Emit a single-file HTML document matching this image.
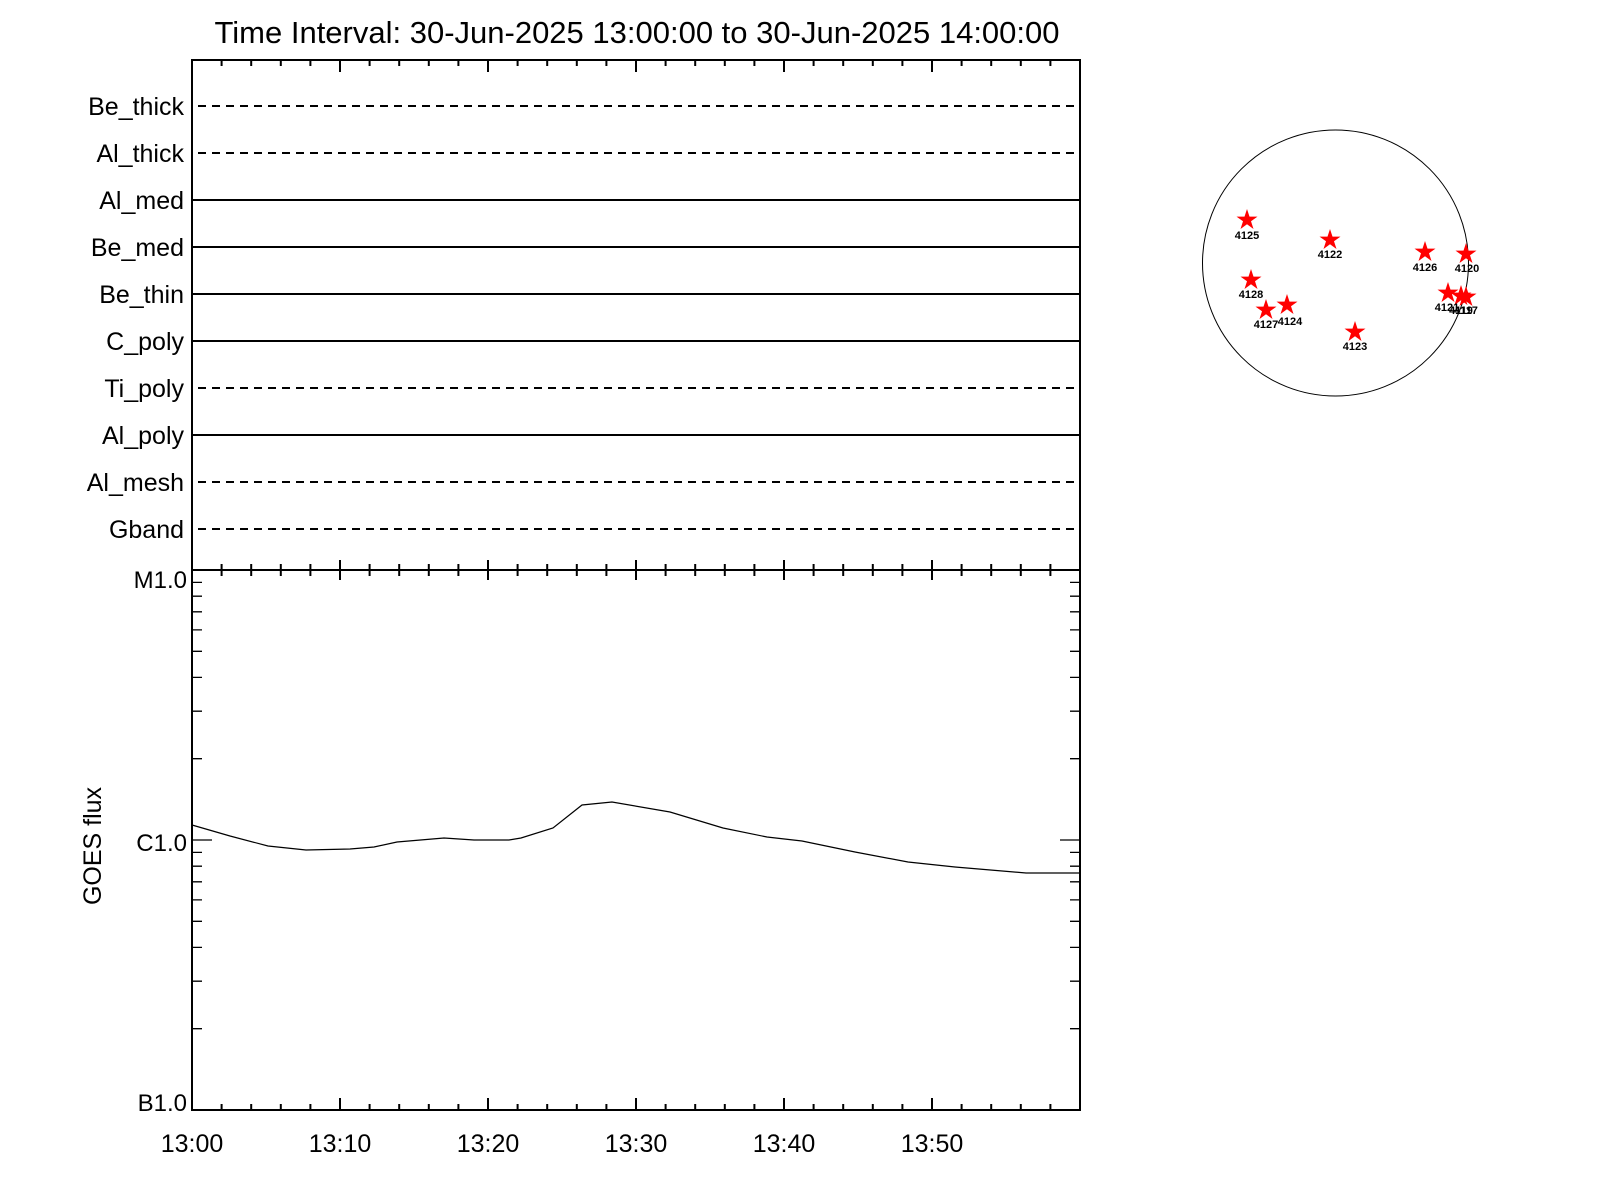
<!DOCTYPE html>
<html><head><meta charset="utf-8"><style>
html,body{margin:0;padding:0;background:#fff;}
svg{display:block;}
text{font-family:"Liberation Sans",sans-serif;fill:#000;}
</style></head><body>
<svg width="1600" height="1200" viewBox="0 0 1600 1200" xmlns="http://www.w3.org/2000/svg">
<rect width="1600" height="1200" fill="#fff"/>
<text x="637" y="43" font-size="31" text-anchor="middle">Time Interval: 30-Jun-2025 13:00:00 to 30-Jun-2025 14:00:00</text>

<g stroke="#000" stroke-width="2" fill="none">
<rect x="192" y="60" width="888" height="1050"/>
<line x1="192" y1="570" x2="1080" y2="570"/>
</g>
<path stroke="#000" stroke-width="2" fill="none" d="
M221.6 60v6 M251.2 60v6 M280.8 60v6 M310.4 60v6 M340 60v12 M369.6 60v6 M399.2 60v6 M428.8 60v6 M458.4 60v6 M488 60v12
M517.6 60v6 M547.2 60v6 M576.8 60v6 M606.4 60v6 M636 60v12 M665.6 60v6 M695.2 60v6 M724.8 60v6 M754.4 60v6 M784 60v12
M813.6 60v6 M843.2 60v6 M872.8 60v6 M902.4 60v6 M932 60v12 M961.6 60v6 M991.2 60v6 M1020.8 60v6 M1050.4 60v6
M221.6 564v12 M251.2 564v12 M280.8 564v12 M310.4 564v12 M340 560v20 M369.6 564v12 M399.2 564v12 M428.8 564v12 M458.4 564v12 M488 560v20
M517.6 564v12 M547.2 564v12 M576.8 564v12 M606.4 564v12 M636 560v20 M665.6 564v12 M695.2 564v12 M724.8 564v12 M754.4 564v12 M784 560v20
M813.6 564v12 M843.2 564v12 M872.8 564v12 M902.4 564v12 M932 560v20 M961.6 564v12 M991.2 564v12 M1020.8 564v12 M1050.4 564v12 M192 564v12
M221.6 1110v-6 M251.2 1110v-6 M280.8 1110v-6 M310.4 1110v-6 M340 1110v-12 M369.6 1110v-6 M399.2 1110v-6 M428.8 1110v-6 M458.4 1110v-6 M488 1110v-12
M517.6 1110v-6 M547.2 1110v-6 M576.8 1110v-6 M606.4 1110v-6 M636 1110v-12 M665.6 1110v-6 M695.2 1110v-6 M724.8 1110v-6 M754.4 1110v-6 M784 1110v-12
M813.6 1110v-6 M843.2 1110v-6 M872.8 1110v-6 M902.4 1110v-6 M932 1110v-12 M961.6 1110v-6 M991.2 1110v-6 M1020.8 1110v-6 M1050.4 1110v-6
"/>
<g stroke="#000" stroke-width="2" fill="none">
<line x1="198" y1="106" x2="1076" y2="106" stroke-dasharray="8,6"/>
<line x1="198" y1="153" x2="1076" y2="153" stroke-dasharray="8,6"/>
<line x1="192" y1="200" x2="1080" y2="200"/>
<line x1="192" y1="247" x2="1080" y2="247"/>
<line x1="192" y1="294" x2="1080" y2="294"/>
<line x1="192" y1="341" x2="1080" y2="341"/>
<line x1="198" y1="388" x2="1076" y2="388" stroke-dasharray="8,6"/>
<line x1="192" y1="435" x2="1080" y2="435"/>
<line x1="198" y1="482" x2="1076" y2="482" stroke-dasharray="8,6"/>
<line x1="198" y1="529" x2="1076" y2="529" stroke-dasharray="8,6"/>
</g>
<g font-size="25" text-anchor="end">
<text x="184" y="115">Be_thick</text>
<text x="184" y="162">Al_thick</text>
<text x="184" y="209">Al_med</text>
<text x="184" y="256">Be_med</text>
<text x="184" y="303">Be_thin</text>
<text x="184" y="350">C_poly</text>
<text x="184" y="397">Ti_poly</text>
<text x="184" y="444">Al_poly</text>
<text x="184" y="491">Al_mesh</text>
<text x="184" y="538">Gband</text>
</g>

<path stroke="#000" stroke-width="1.3" fill="none" d="
M192 582.4h10 M192 596.2h10 M192 611.8h10 M192 629.9h10 M192 651.3h10 M192 677.4h10 M192 711.2h10 M192 758.7h10 M192 840h20
M192 852.4h10 M192 866.2h10 M192 881.8h10 M192 899.9h10 M192 921.3h10 M192 947.4h10 M192 981.2h10 M192 1028.7h10
M1080 582.4h-10 M1080 596.2h-10 M1080 611.8h-10 M1080 629.9h-10 M1080 651.3h-10 M1080 677.4h-10 M1080 711.2h-10 M1080 758.7h-10 M1080 840h-20
M1080 852.4h-10 M1080 866.2h-10 M1080 881.8h-10 M1080 899.9h-10 M1080 921.3h-10 M1080 947.4h-10 M1080 981.2h-10 M1080 1028.7h-10
"/>
<g font-size="24" text-anchor="end">
<text x="187" y="588">M1.0</text>
<text x="187" y="851">C1.0</text>
<text x="187" y="1111">B1.0</text>
</g>
<text transform="translate(101,846) rotate(-90)" font-size="25" text-anchor="middle">GOES flux</text>

<polyline fill="none" stroke="#000" stroke-width="1.2" points="192,825 230,836 268,846 306,850 350,849 374,847 397,842 444,838 474,840 509,840 521,838 553,828 582,805 612,802 670,812 723,828 767,837 802,841 855,852 908,862 955,867 1026,873 1080,873"/>

<g font-size="25" text-anchor="middle">
<text x="192" y="1152">13:00</text>
<text x="340" y="1152">13:10</text>
<text x="488" y="1152">13:20</text>
<text x="636" y="1152">13:30</text>
<text x="784" y="1152">13:40</text>
<text x="932" y="1152">13:50</text>
</g>

<circle cx="1335.5" cy="263" r="133" fill="none" stroke="#000" stroke-width="1"/>
<defs>
<polygon id="st" fill="#ff0000" points="0,-11 2.5,-3.4 10.5,-3.4 4,1.3 6.5,9 0,4.2 -6.5,9 -4,1.3 -10.5,-3.4 -2.5,-3.4"/>
</defs>
<g>
<use href="#st" x="1247" y="220"/>
<use href="#st" x="1330" y="240"/>
<use href="#st" x="1425" y="252"/>
<use href="#st" x="1466" y="254"/>
<use href="#st" x="1251" y="280"/>
<use href="#st" x="1266" y="310"/>
<use href="#st" x="1287" y="305"/>
<use href="#st" x="1355" y="332"/>
<use href="#st" x="1448" y="293"/>
<use href="#st" x="1461" y="296"/>
<use href="#st" x="1466" y="297"/>
</g>
<g font-size="11" text-anchor="middle" font-weight="bold">
<text x="1247" y="239">4125</text>
<text x="1330" y="258">4122</text>
<text x="1425" y="271">4126</text>
<text x="1467" y="272">4120</text>
<text x="1251" y="298">4128</text>
<text x="1266" y="328">4127</text>
<text x="1290" y="325">4124</text>
<text x="1355" y="350">4123</text>
<text x="1447" y="311">4121</text>
<text x="1461" y="314">4119</text>
<text x="1466" y="314">4117</text>
</g>
</svg>
</body></html>
